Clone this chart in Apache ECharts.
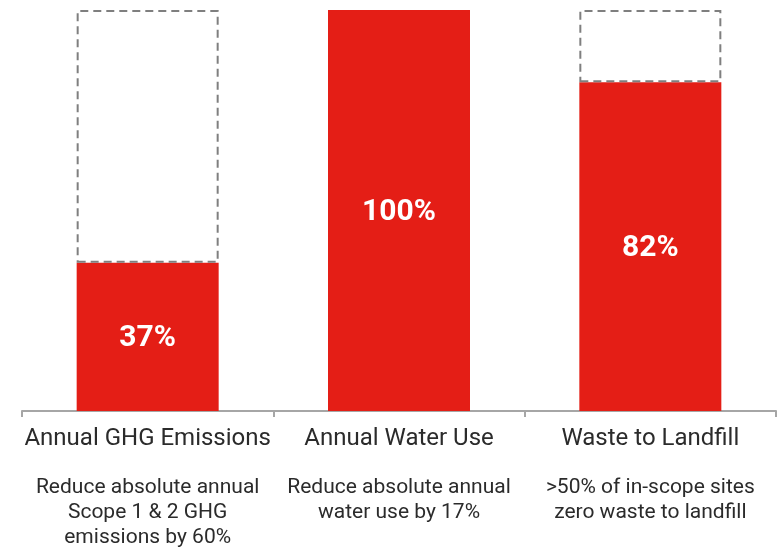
<!DOCTYPE html>
<html>
<head>
<meta charset="utf-8">
<script src="https://cdn.jsdelivr.net/npm/echarts@6/dist/echarts.min.js"></script>
<style>
  html, body { margin: 0; padding: 0; background: #ffffff; }
  #chart { width: 784px; height: 549px; }
</style>
</head>
<body>
<div id="chart"></div>
<script>
// Progress toward each goal, in percent
const categories = ['Annual GHG Emissions', 'Annual Water Use', 'Waste to Landfill'];
const goalNotes = [
  ['Reduce absolute annual', 'Scope 1 & 2 GHG', 'emissions by 60%'],
  ['Reduce absolute annual', 'water use by 17%'],
  ['>50% of in-scope sites', 'zero waste to landfill']
];
const progress = [37, 100, 82];
const target = 100;

// Dashed outline for the part of each goal not yet reached (none when complete)
const remaining = progress.map(v => (v >= target ? '-' : target - v));

const chart = echarts.init(document.getElementById('chart'));
chart.setOption({
  animation: false,
  grid: { left: 22, right: 8, top: 10, bottom: 138, containLabel: false },
  xAxis: {
    type: 'category',
    data: categories,
    boundaryGap: true,
    axisLine: { lineStyle: { color: '#a6a6a6', width: 2 } },
    axisTick: { show: true, length: 6, lineStyle: { color: '#a6a6a6', width: 2 } },
    axisLabel: {
      margin: 14,
      interval: 0,
      fontFamily: 'Roboto',
      formatter: function (value, idx) {
        const notes = goalNotes[idx].map(l => '{b|' + l + '}').join('\n');
        return '{a|' + value + '}\n{g|}\n' + notes;
      },
      rich: {
        a: { fontSize: 24, lineHeight: 28, color: '#2b2b2b', fontFamily: 'Roboto' },
        g: { fontSize: 10, lineHeight: 22 },
        b: { fontSize: 21, lineHeight: 25, color: '#2b2b2b', fontFamily: 'Roboto' }
      }
    }
  },
  yAxis: {
    type: 'value',
    min: 0,
    max: target,
    show: false,
    splitLine: { show: false }
  },
  series: [
    {
      type: 'bar',
      stack: 'goal',
      data: progress,
      barWidth: 142,
      itemStyle: { color: '#e41e16' },
      label: {
        show: true,
        position: 'inside',
        offset: [0, 2],
        formatter: '{c}%',
        color: '#ffffff',
        fontFamily: 'Roboto',
        fontWeight: 'bold',
        fontSize: 30
      },
      z: 2
    },
    {
      type: 'bar',
      stack: 'goal',
      data: remaining,
      barWidth: 142,
      itemStyle: {
        color: 'rgba(0,0,0,0)',
        borderColor: '#7f7f7f',
        borderWidth: 2,
        borderType: [8, 5]
      },
      z: 3
    }
  ]
});
</script>
</body>
</html>
